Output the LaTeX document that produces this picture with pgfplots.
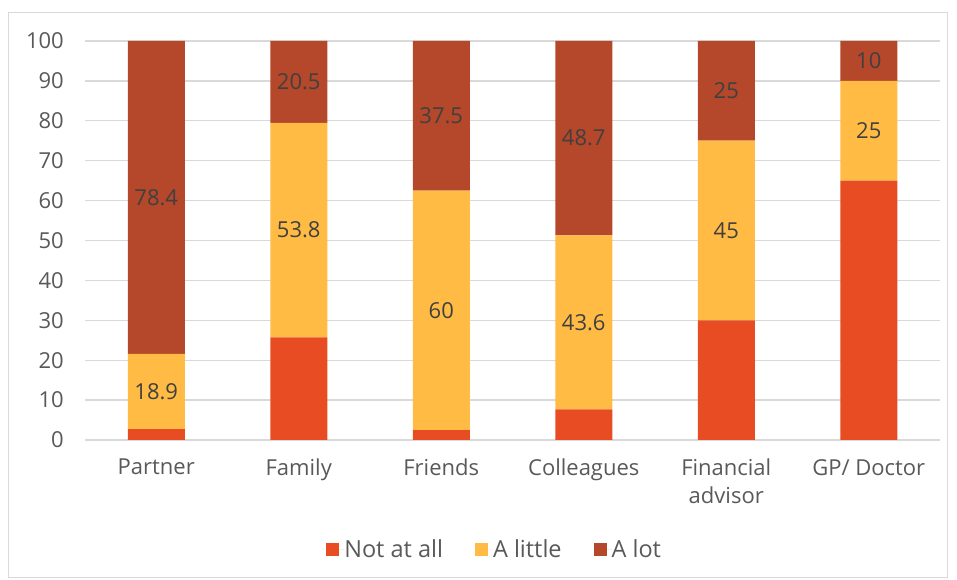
\documentclass[border=0pt]{standalone}
\usepackage{pgfplots}
\pgfplotsset{compat=1.18}
\usepackage{fontspec}
\setmainfont{Open Sans}
\definecolor{notatall}{HTML}{E84C22}
\definecolor{alittle}{HTML}{FFBB44}
\definecolor{alot}{HTML}{B5472A}
\definecolor{txt}{HTML}{595959}
\definecolor{lbl}{HTML}{404040}
\definecolor{grd}{HTML}{D9D9D9}
\pgfplotsset{
  centered labels/.style={
    nodes near coords,
    point meta=explicit,
    every node near coord/.style={anchor=center, text=lbl, inner sep=0pt, font=\fontsize{22}{26}\selectfont},
    nodes near coords={\pgfmathprintnumber\pgfplotspointmeta},
  },
}
\begin{document}
\begin{tikzpicture}
\path[use as bounding box] (0,0) rectangle (957pt,580pt);
\draw[grd, line width=1pt] (8.5pt,2pt) rectangle (947pt,567.5pt);
\begin{axis}[
  at={(85pt,140pt)}, anchor=south west,
  scale only axis, width=855pt, height=399pt,
  ybar stacked, bar width=57pt,
  xmin=-0.5, xmax=5.5, ymin=0, ymax=100,
  xtick={0,1,2,3,4,5},
  xticklabels={Partner, Family, Friends, Colleagues, {Financial\\advisor}, GP/ Doctor},
  ytick={0,10,...,100},
  axis line style={draw=none},
  major tick length=0pt,
  ymajorgrids, grid style={grd, line width=1.3pt},
  tick label style={text=txt, inner sep=0pt, font=\fontsize{22}{28}\selectfont},
  xticklabel style={align=center, yshift=-19pt},
  yticklabel style={xshift=-21pt},
  /pgf/number format/assume math mode=true,
  legend style={at={(0.478,-0.274)}, anchor=center, legend columns=-1, draw=none, fill=none,
    font=\fontsize{23.5}{26}\selectfont, text=txt,
    nodes={inner sep=0pt},
    /tikz/every even column/.append style={column sep=32pt},
    inner sep=0pt},
  legend image code/.code={\path (0pt,0pt) -- (18pt,0pt);\fill[#1] (0pt,-6.5pt) rectangle (13pt,6.5pt);},
]
\addplot[fill=notatall, draw=none] coordinates {(0,2.7) (1,25.7) (2,2.5) (3,7.7) (4,30) (5,65)};
\addplot[fill=alittle, draw=none, centered labels] coordinates {(0,18.9) [18.9] (1,53.8) [53.8] (2,60) [60] (3,43.6) [43.6] (4,45) [45] (5,25) [25]};
\addplot[fill=alot, draw=none, centered labels] coordinates {(0,78.4) [78.4] (1,20.5) [20.5] (2,37.5) [37.5] (3,48.7) [48.7] (4,25) [25] (5,10) [10]};
\legend{Not at all, A little, A lot}
\end{axis}
\end{tikzpicture}
\end{document}
